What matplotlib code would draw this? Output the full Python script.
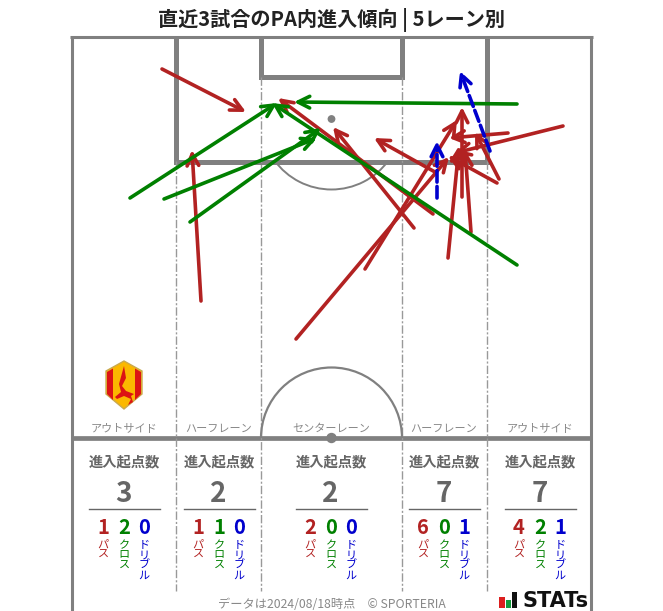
#!/usr/bin/env python
import matplotlib
matplotlib.use('Agg')
import matplotlib.pyplot as plt
from matplotlib.patches import Arc, Circle, Polygon, Rectangle, FancyArrowPatch

plt.rcParams['font.family'] = ['Noto Sans CJK JP', 'DejaVu Sans']

title = '直近3試合のPA内進入傾向 | 5レーン別'
lanes = ['アウトサイド', 'ハーフレーン', 'センターレーン', 'ハーフレーン', 'アウトサイド']
total = [3, 2, 2, 7, 7]
n_pass = [1, 1, 2, 6, 4]
n_cross = [2, 1, 0, 0, 2]
n_drib = [0, 0, 0, 1, 1]

# start x, start y, end x, end y (picture pixels)
passes = [
  (162, 69, 246, 112), (201, 301, 192, 150),
  (296, 339, 449, 157), (365, 269, 457, 120),
  (414, 228, 333, 127), (433, 214, 278, 98), (435, 172, 374, 138),
  (448, 258, 459, 146), (462, 197, 462, 107), (471, 232, 465, 150),
  (497, 183, 448, 156), (499, 179, 475, 132), (508, 133, 449, 138), (563, 126, 455, 153),
]
crosses = [
  (130, 198, 277, 103), (164, 199, 317, 138), (190, 222, 321, 128),
  (517, 265, 272, 103), (517, 104, 294, 102),
]
dribbles = [(437, 198, 437, 141), (490, 151, 460, 71)]

RED, GREEN, BLUE = '#b22222', '#008000', '#0000cd'
GRAY = '#808080'
DARK = '#666666'

fig = plt.figure( figsize=[6.63, 6.11], dpi=100 )
ax = fig.add_axes( (0, 0, 1, 1) )
ax.set_xlim( 0, 663 )
ax.set_ylim( 611, 0 )
ax.axis('off')

# pitch
kwa = {'color': GRAY, 'solid_capstyle': 'butt', 'zorder': 1}
ax.plot( [71.5, 71.5], [36, 611], lw=2.2, **kwa )
ax.plot( [591, 591], [36, 611], lw=2.2, **kwa )
ax.plot( [70, 592.5], [37, 37], lw=2.2, **kwa )
ax.plot( [72, 591], [438, 438], lw=3.4, **kwa )
kwa['solid_joinstyle'] = 'miter'
ax.plot( [176, 176, 487, 487], [37, 161.5, 161.5, 37], lw=3.6, **kwa )
ax.plot( [261, 261, 402, 402], [37, 77, 77, 37], lw=3.6, **kwa )

kwa = {'color': '#999999', 'lw': 1.0, 'ls': (0, (6, 1.5, 1.5, 1.5)), 'zorder': 1}
for x, y0 in [(176, 161), (261, 77), (402, 77), (487, 161)] :
  ax.plot( [x, x], [y0, 591], **kwa )

ax.add_patch( Arc( (331.5, 438), 141, 141, theta1=180, theta2=360, color=GRAY, lw=1.6, zorder=1 ) )
ax.add_patch( Arc( (331.5, 119), 141, 141, theta1=36, theta2=144, color=GRAY, lw=1.4, zorder=1 ) )
ax.add_patch( Circle( (331.5, 119), 3.2, color=GRAY, zorder=1 ) )
ax.add_patch( Circle( (331.5, 438), 4.5, color=GRAY, zorder=1 ) )

# arrows
for rows, col, ls in [ (passes, RED, '-'), (crosses, GREEN, '-'), (dribbles, BLUE, (0, (3.2, 1.2))) ] :
  for x0, y0, x1, y1 in rows :
    ax.add_patch( FancyArrowPatch( (x0, y0), (x1, y1), arrowstyle='->,head_length=0.6,head_width=0.3',
      mutation_scale=14, color=col, lw=2.6, ls=ls, shrinkA=0, shrinkB=0, zorder=3 ) )

# lane panels
cx = [124, 219, 331, 444, 540]
for i in range(5) :
  c = cx[i]
  ax.text( c, 428.5, lanes[i], ha='center', va='center', fontsize=8, color='#888888' )
  ax.text( c, 462.5, '進入起点数', ha='center', va='center', fontsize=10.3, fontweight='bold', color=DARK )
  ax.text( c - 0.5, 493.5, str(total[i]), ha='center', va='center', fontsize=20, fontweight='bold', color=DARK )
  ax.plot( [c - 35.5, c + 35.5], [508.5, 508.5], color=DARK, lw=1.0 )
  for dx, val, name, col in [ (-21, n_pass[i], 'パス', RED), (0, n_cross[i], 'クロス', GREEN), (20, n_drib[i], 'ドリブル', BLUE) ] :
    ax.text( c + dx, 527, str(val), ha='center', va='center', fontsize=14.5, fontweight='bold', color=col )
    for j, ch in enumerate(name) :
      ax.text( c + dx, 545 + j * 10.2, ch, ha='center', va='center', fontsize=8, color=col )

ax.text( 331, 19.5, title, ha='center', va='center', fontsize=14.5, fontweight='bold', color='#222222' )
ax.text( 332, 604, 'データは2024/08/18時点　© SPORTERIA', ha='center', va='center', fontsize=8.8, color='#888888' )

# crest
ax.add_patch( Polygon( [(124, 361), (142, 371), (142, 394), (124, 409), (106, 394), (106, 371)], fc='#fbb800', ec='#c9a94f', lw=1, zorder=2 ) )
ax.add_patch( Polygon( [(107, 372), (113, 368.5), (113, 400), (107, 394)], fc='#dc1414', zorder=2 ) )
ax.add_patch( Polygon( [(135, 368.5), (141, 372), (141, 394), (135, 400)], fc='#dc1414', zorder=2 ) )
ax.add_patch( Polygon( [(124, 366), (126, 378), (122, 386), (126, 391), (134, 394), (131, 396), (133, 402), (128, 405), (131, 399), (124, 396), (117, 399), (115, 397), (121, 392), (119, 384)], fc='#dc1414', zorder=2 ) )

# stats logo
ax.add_patch( Rectangle( (499, 597), 5.5, 11, fc='#dc1e1e', zorder=2 ) )
ax.add_patch( Rectangle( (505.5, 600), 5.5, 8, fc='#129a3c', zorder=2 ) )
ax.add_patch( Rectangle( (512, 592), 5, 16, fc='#111111', zorder=2 ) )
ax.text( 522, 601, 'STATs', ha='left', va='center', fontsize=15, fontweight='bold', color='#111111', family='DejaVu Sans' )

fig.savefig( 'out.png', dpi=100 )
plt.close(fig)
